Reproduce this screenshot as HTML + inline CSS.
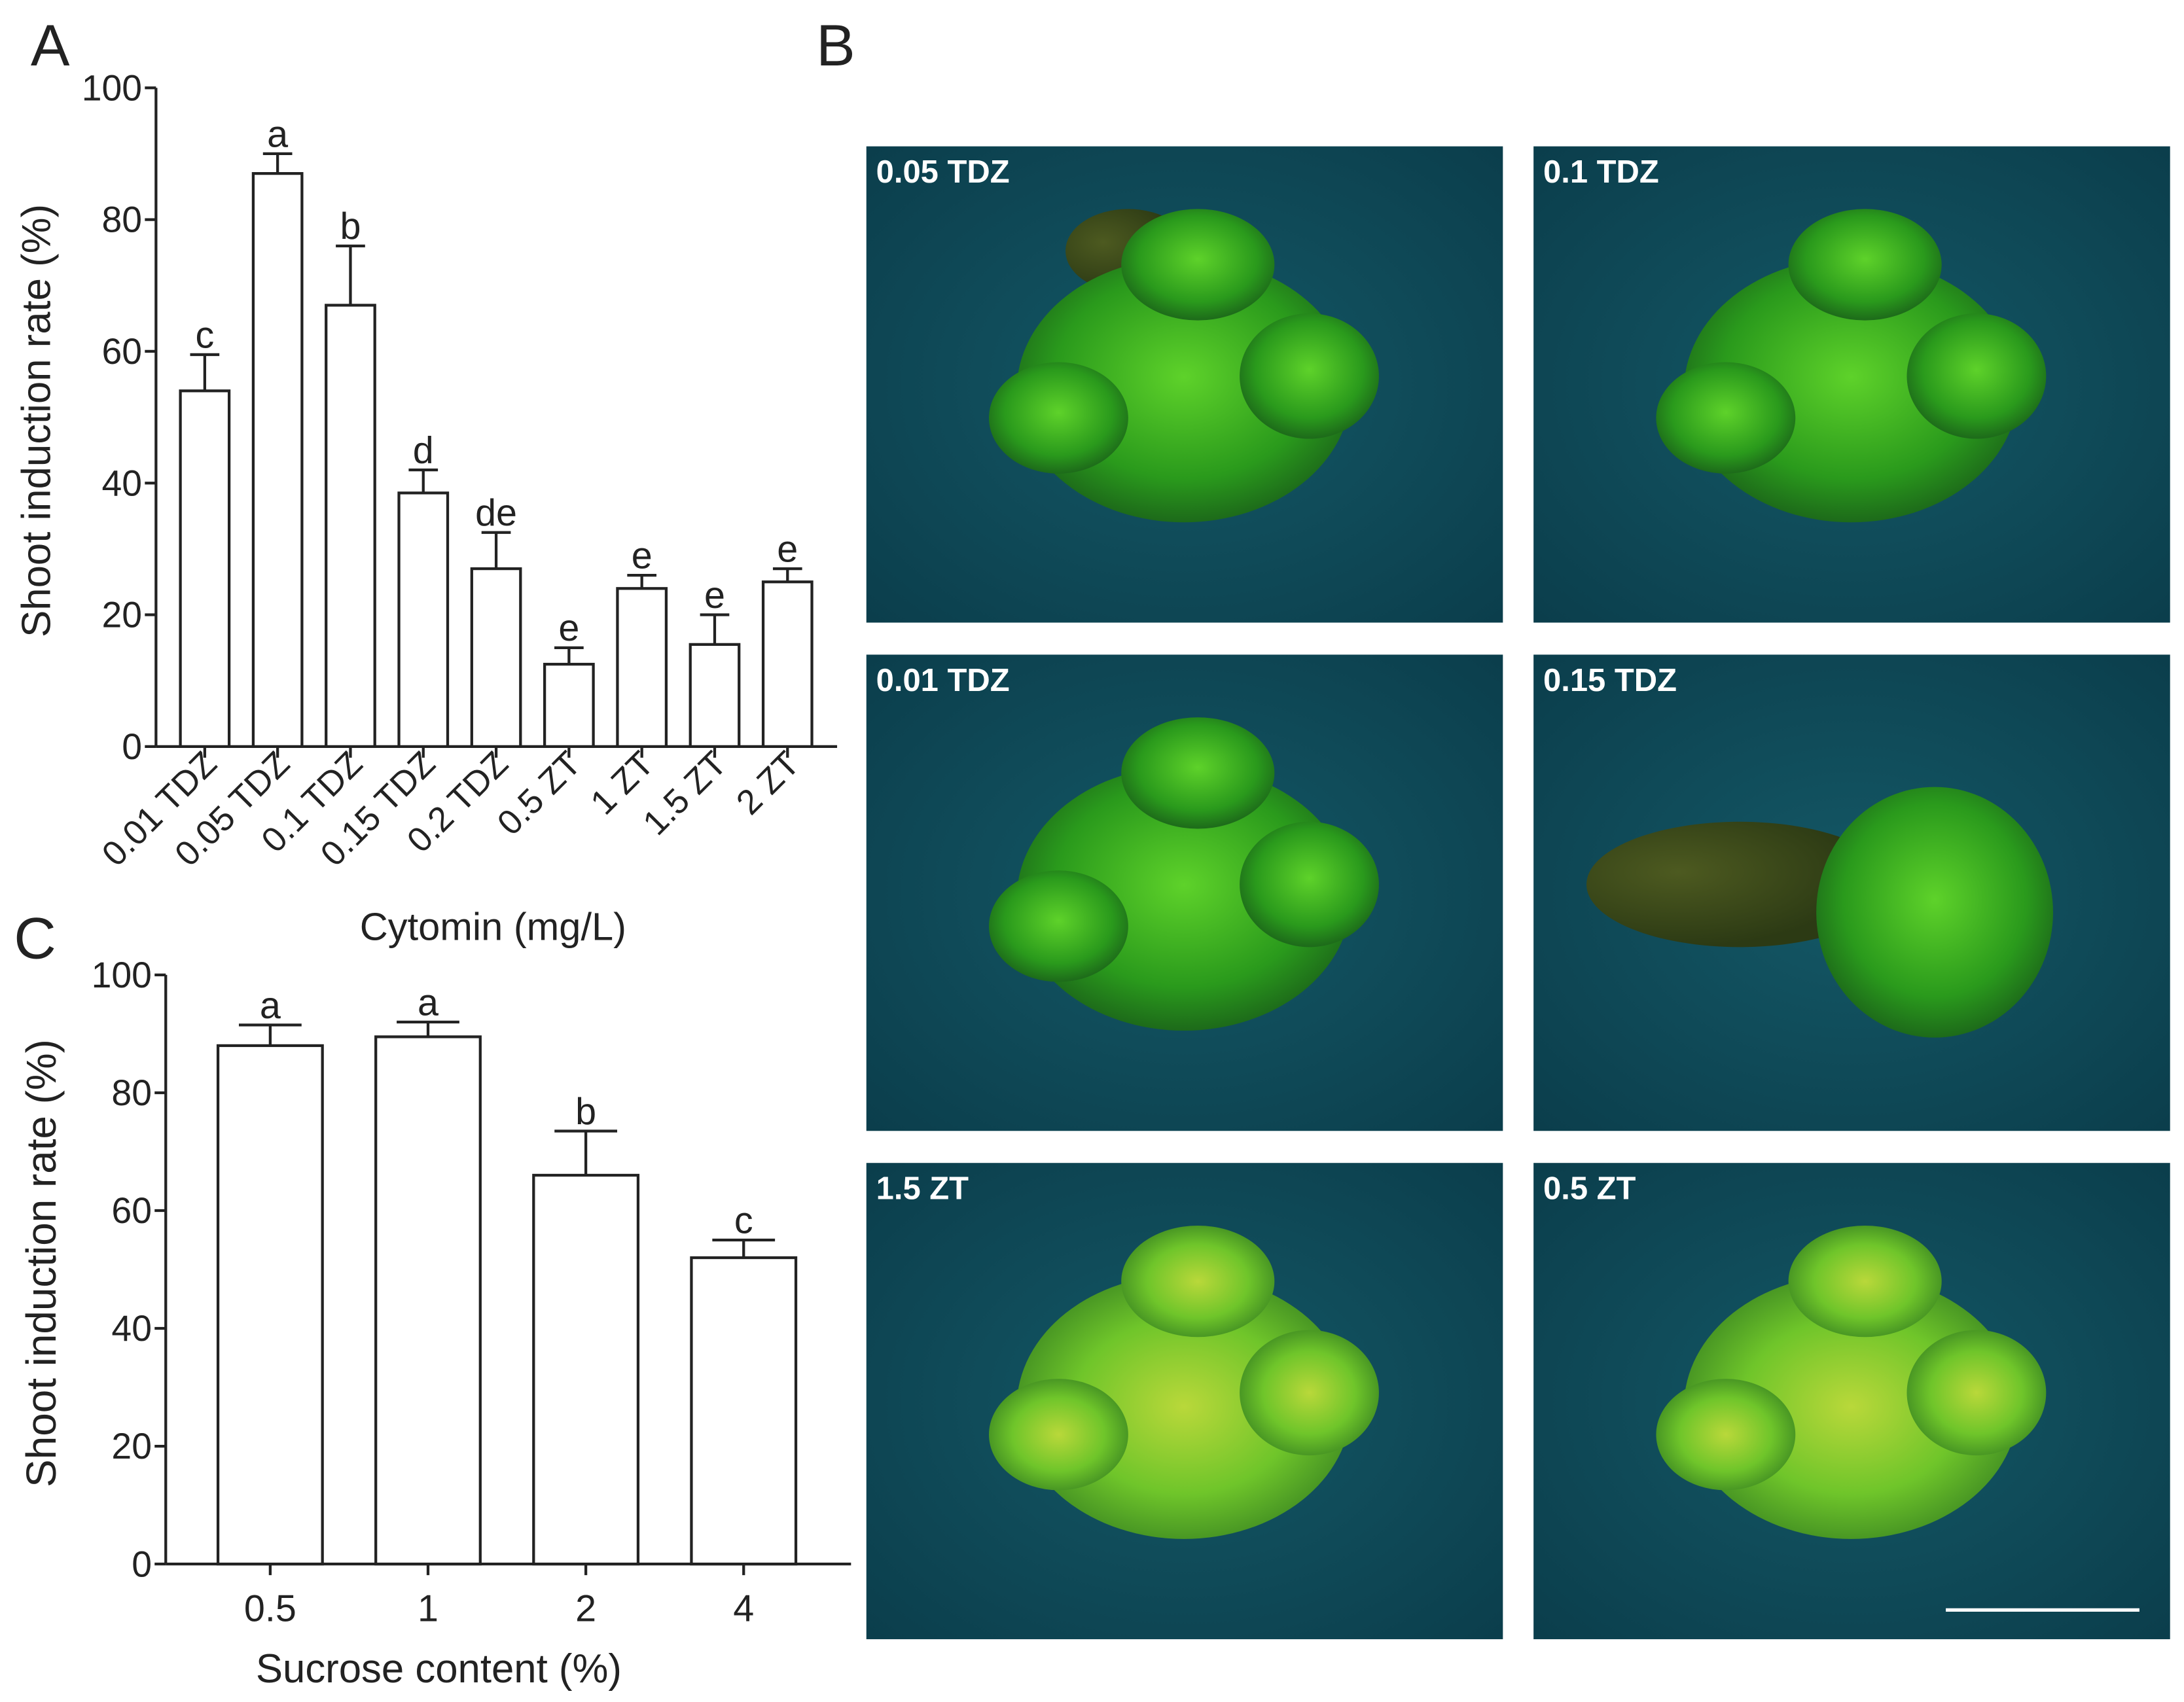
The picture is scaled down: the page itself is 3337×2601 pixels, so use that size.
<!DOCTYPE html>
<html><head><meta charset="utf-8"><style>
html,body{margin:0;padding:0;background:#fff}
svg{display:block;font-family:"Liberation Sans",Arial,sans-serif}
</style></head><body>
<svg id="fig" width="3337" height="2601" viewBox="0 0 1568 1222" xmlns="http://www.w3.org/2000/svg">
<defs>
<radialGradient id="bg" cx="50%" cy="50%" r="70%"><stop offset="0" stop-color="#145866"/><stop offset="1" stop-color="#0b3e4c"/></radialGradient>
<radialGradient id="g1" cx="50%" cy="45%" r="55%"><stop offset="0" stop-color="#5ed22a"/><stop offset=".7" stop-color="#2a9a1c"/><stop offset="1" stop-color="#1d6a1a"/></radialGradient>
<radialGradient id="g2" cx="50%" cy="50%" r="55%"><stop offset="0" stop-color="#b9d83a"/><stop offset=".6" stop-color="#6fc52a"/><stop offset="1" stop-color="#3e8a22"/></radialGradient>
<radialGradient id="g3" cx="30%" cy="40%" r="60%"><stop offset="0" stop-color="#4d5a20"/><stop offset="1" stop-color="#2c3a14"/></radialGradient>
</defs>
<text x="22" y="47" font-size="42" fill="#222">A</text>
<text x="586" y="47" font-size="42" fill="#222">B</text>
<text x="10" y="688" font-size="42" fill="#222">C</text>
<g id="chartA"></g>
<g id="chartC"></g>
<g id="photos"></g>
</svg>
<script>
const NS="http://www.w3.org/2000/svg";
const catsA=["0.01 TDZ","0.05 TDZ","0.1 TDZ","0.15 TDZ","0.2 TDZ","0.5 ZT","1 ZT","1.5 ZT","2 ZT"];
const valsA=[54,87,67,38.5,27,12.5,24,15.5,25];
const errA=[5.5,3,9,3.5,5.5,2.5,2,4.5,2];
const letA=["c","a","b","d","de","e","e","e","e"];
const catsC=["0.5","1","2","4"];
const valsC=[88,89.5,66,52];
const errC=[3.5,2.5,7.5,3];
const letC=["a","a","b","c"];
const ticks=[0,20,40,60,80,100];
function el(tag,attrs,parent,txt){const e=document.createElementNS(NS,tag);for(const k in attrs)e.setAttribute(k,attrs[k]);if(txt!==undefined)e.textContent=txt;parent.appendChild(e);return e;}
function chart(g,cfg){
 const y=v=>cfg.y0-(cfg.y0-cfg.y100)*v/100;
 const ax=el("line",{x1:cfg.x0,y1:cfg.y100,x2:cfg.x0,y2:cfg.y0,stroke:"#222","stroke-width":2},g);
 
 
 const bx=el("line",{x1:cfg.x0,y1:cfg.y0,x2:cfg.xEnd,y2:cfg.y0,stroke:"#222","stroke-width":2},g);
 
 
 ticks.forEach(t=>{
  el("line",{x1:cfg.x0-8,x2:cfg.x0,y1:y(t),y2:y(t),stroke:"#222","stroke-width":2},g);
  const tl=el("text",{x:cfg.x0-10,y:y(t)+9,"font-size":26,"text-anchor":"end",fill:"#222"},g,String(t));
  
  
 });
 const yt=el("text",{transform:`translate(${cfg.ytx},${cfg.ytc}) rotate(-90)`,"font-size":cfg.ytfs,"text-anchor":"middle",fill:"#222"},g,"Shoot induction rate (%)");
 
 
 cfg.cats.forEach((c,i)=>{
  const cx=cfg.x0+cfg.first+i*cfg.step, w=cfg.bw;
  const top=y(cfg.vals[i]), et=y(cfg.vals[i]+cfg.errs[i]);
  el("line",{x1:cx,x2:cx,y1:top,y2:et,stroke:"#222","stroke-width":2},g);
  el("line",{x1:cx-w*0.3,x2:cx+w*0.3,y1:et,y2:et,stroke:"#222","stroke-width":2},g);
  const r=el("rect",{x:cx-w/2,y:top,width:w,height:cfg.y0-top,fill:"#fff",stroke:"#222","stroke-width":2},g);
  
  
  const lt=el("text",{x:cx,y:et-5,"font-size":27,"text-anchor":"middle",fill:"#222"},g,cfg.lets[i]);
  
  
  el("line",{x1:cx,x2:cx,y1:cfg.y0,y2:cfg.y0+8,stroke:"#222","stroke-width":2},g);
  let xl;
  if(cfg.rot){xl=el("text",{transform:`translate(${cx+10},${cfg.y0+14}) rotate(-45)`,"font-size":25,"text-anchor":"end",fill:"#222"},g,c);}
  else{xl=el("text",{x:cx,y:cfg.y0+41,"font-size":27,"text-anchor":"middle",fill:"#222"},g,c);}
  
  
 });
 const xt=el("text",{x:cfg.xtx,y:cfg.xty,"font-size":cfg.xtfs,"text-anchor":"middle",fill:"#222"},g,cfg.xtitle);
 
 
}
chart(document.getElementById("chartA"),{x0:112,y0:536,y100:63,xEnd:601,first:35,step:52.3,bw:35,cats:catsA,vals:valsA,errs:errA,lets:letA,rot:true,ytx:36,ytc:302,ytfs:29,xtx:354,xty:675,xtfs:28,xtitle:"Cytomin (mg/L)"});
chart(document.getElementById("chartC"),{x0:119,y0:1123,y100:700,xEnd:611,first:75,step:113.3,bw:75,cats:catsC,vals:valsC,errs:errC,lets:letC,rot:false,ytx:40,ytc:907,ytfs:30,xtx:315,xty:1208,xtfs:29,xtitle:"Sucrose content (%)"});
// photos
const photoLabels=["0.05  TDZ","0.1  TDZ","0.01  TDZ","0.15  TDZ","1.5  ZT","0.5  ZT"];
const P=document.getElementById("photos");
const xs=[622,1101], ys=[105,470,835];
photoLabels.forEach((lab,i)=>{
 const px=xs[i%2], py=ys[Math.floor(i/2)];
 const gp=el("g",{},P);
 
 
 el("rect",{x:px,y:py,width:457,height:342,fill:"url(#bg)"},gp);
 const cx=px+228, cy=py+175;
 const fill=i>=4?"url(#g2)":"url(#g1)";
 if(i===3) el("ellipse",{cx:cx-80,cy:cy-10,rx:110,ry:45,fill:"url(#g3)"},gp);
 if(i===0) el("ellipse",{cx:cx-40,cy:cy-100,rx:45,ry:30,fill:"url(#g3)"},gp);
 if(i===3){
  el("ellipse",{cx:cx+60,cy:cy+10,rx:85,ry:90,fill:fill},gp);
 } else {
  el("ellipse",{cx:cx,cy:cy,rx:120,ry:95,fill:fill},gp);
  el("ellipse",{cx:cx-90,cy:cy+20,rx:50,ry:40,fill:fill},gp);
  el("ellipse",{cx:cx+90,cy:cy-10,rx:50,ry:45,fill:fill},gp);
  el("ellipse",{cx:cx+10,cy:cy-90,rx:55,ry:40,fill:fill},gp);
 }
 const t=el("text",{x:px+7,y:py+26,"font-size":23,"font-weight":"bold",fill:"#fff"},gp,lab);
 
 
});
const sb=el("line",{x1:1397,x2:1536,y1:1156,y2:1156,stroke:"#fff","stroke-width":2.5},P);


</script>
</body></html>
